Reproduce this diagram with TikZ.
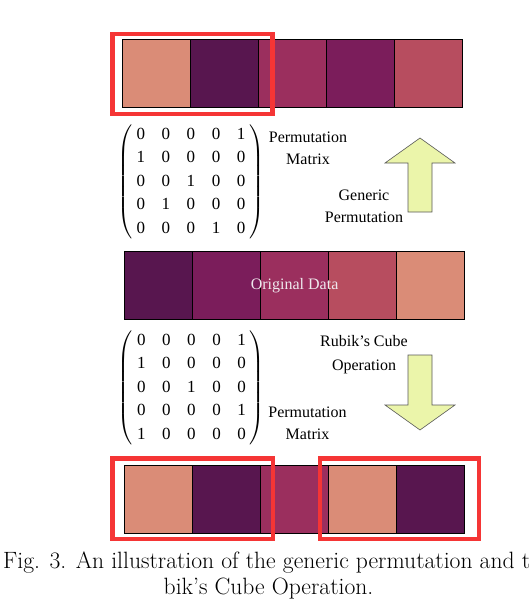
\documentclass[tikz,border=0pt]{standalone}
\usepackage{amsmath}
\usepackage{fontspec}
\usetikzlibrary{positioning,calc}
\newfontfamily\labelfont{Liberation Serif}
\definecolor{salmon}{HTML}{DA8C77}
\definecolor{plum}{HTML}{58164F}
\definecolor{berry}{HTML}{9B2F5E}
\definecolor{wine}{HTML}{7B1D5B}
\definecolor{rose}{HTML}{B74D5F}
\definecolor{frame}{HTML}{F53535}
\definecolor{arrowfill}{HTML}{EBF5AA}
\newcommand{\permmatrix}[1]{\setlength{\tabcolsep}{8.3pt}$\left(\begin{tabular}{@{\hspace{4pt}}ccccc@{\hspace{4pt}}}#1\end{tabular}\right)$}

\begin{document}
\begin{tikzpicture}[x=1pt,y=-1pt,node distance=0pt,
  cell/.style={draw=black,line width=0.9pt,fill=#1,minimum width=68pt,minimum height=68.4pt,inner sep=0pt,outer sep=0pt},
  lbl/.style={font=\labelfont\fontsize{16}{22}\selectfont,align=center,inner sep=0pt},
  matfont/.style={font=\labelfont\fontsize{17}{23.5}\selectfont,inner sep=0pt},
  redframe/.style={draw=frame,line width=4.5pt},
  blockarrow/.style={draw=black!65,fill=arrowfill,line width=0.6pt},
  capfont/.style={font=\fontsize{23.6}{27}\selectfont,inner sep=0pt}]
  \useasboundingbox (0,0) rectangle (528,602);
  \clip (0,0) rectangle (528,602);
  % permuted data (top)
  \node[cell=salmon,anchor=north west] (t1) at (122.7,39.3) {};
  \node[cell=plum,right=of t1] (t2) {};
  \node[cell=berry,right=of t2] (t3) {};
  \node[cell=wine,right=of t3] (t4) {};
  \node[cell=rose,right=of t4] (t5) {};
  % original data
  \node[cell=plum,anchor=north west] (m1) at (124.6,251) {};
  \node[cell=wine,right=of m1] (m2) {};
  \node[cell=berry,right=of m2] (m3) {};
  \node[cell=rose,right=of m3] (m4) {};
  \node[cell=salmon,right=of m4] (m5) {};
  \node[lbl,text=white!90!plum] (orig) at (m3) {Original Data};
  % rubik's cube result (bottom)
  \node[cell=salmon,anchor=north west] (b1) at (124.8,465) {};
  \node[cell=plum,right=of b1] (b2) {};
  \node[cell=berry,right=of b2] (b3) {};
  \node[cell=salmon,right=of b3] (b4) {};
  \node[cell=plum,right=of b4] (b5) {};
  % highlighted pairs
  \draw[redframe] ($(t1.north west)+(-10.2,-5.5)$) rectangle ($(t2.south east)+(13.7,6.2)$);
  \draw[redframe] ($(b1.north west)+(-12.5,-6.7)$) rectangle ($(b2.south east)+(12.3,5.4)$);
  \draw[redframe] ($(b4.north west)+(-9,-6.7)$) rectangle ($(b5.south east)+(14.2,5.4)$);
  % matrices
  \node[matfont] (pm1) at (191,181.5) {\permmatrix{0&0&0&0&1\\1&0&0&0&0\\0&0&1&0&0\\0&1&0&0&0\\0&0&0&1&0}};
  \node[matfont] (pm2) at (191.5,387.5) {\permmatrix{0&0&0&0&1\\1&0&0&0&0\\0&0&1&0&0\\0&0&0&0&1\\1&0&0&0&0}};
  \node[lbl] (pm1lbl) at (308,148) {Permutation\\Matrix};
  \node[lbl] (pm2lbl) at (307.5,423.5) {Permutation\\Matrix};
  \node[lbl] (genlbl) at (364,206) {Generic\\Permutation};
  \node[lbl] (rublbl) at (364,354.5) {Rubik’s Cube\\[2.5pt]Operation};
  % block arrows
  \draw[blockarrow] (408,212) -- (408,163) -- (385,163) -- (420,138) -- (455,163) -- (432,163) -- (432,212) -- cycle;
  \draw[blockarrow] (408,355) -- (408,405) -- (385,405) -- (420,430) -- (455,405) -- (432,405) -- (432,355) -- cycle;
  % caption
  \node[capfont,anchor=base west] (cap1) at (3,568) {Fig. 3. An illustration of the generic permutation and t};
  \node[capfont,anchor=base] (cap2) at (268.5,594) {bik’s Cube Operation.};
\end{tikzpicture}
\end{document}
